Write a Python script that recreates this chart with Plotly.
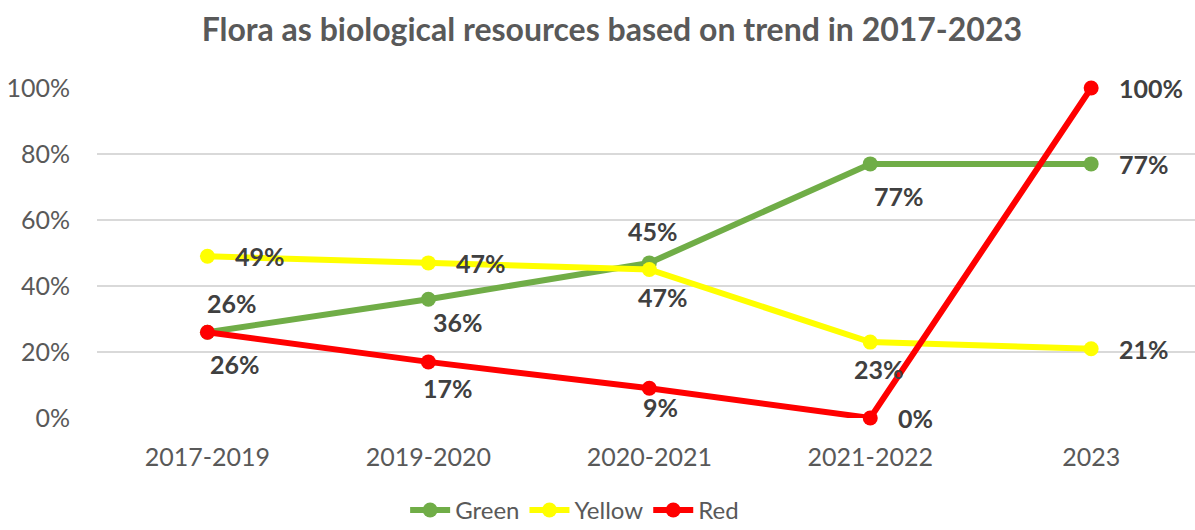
import plotly.graph_objects as go

categories = ["2017-2019", "2019-2020", "2020-2021", "2021-2022", "2023"]
green = [26, 36, 47, 77, 77]
yellow = [49, 47, 45, 23, 21]
red = [26, 17, 9, 0, 100]
green_labels = ["26%", "36%", "45%", "77%", "77%"]
yellow_labels = ["49%", "47%", "47%", "23%", "21%"]
red_labels = ["26%", "17%", "9%", "0%", "100%"]
y_ticks = [0, 20, 40, 60, 80, 100]
y_tick_text = ["0%", "20%", "40%", "60%", "80%", "100%"]

FONT = "Lato"
GRAY = "#595959"
LABEL = "#404040"

series = [
    ("Green", green, green_labels, "#70ad47",
     [(25, -29, "c"), (30, 23, "c"), (4, -32, "c"), (29, 32, "c"), (26, 0, "r")]),
    ("Yellow", yellow, yellow_labels, "#ffff00",
     [(26, 0, "r"), (26, 0, "r"), (14, 27, "c"), (9, 27, "c"), (26, 0, "r")]),
    ("Red", red, red_labels, "#ff0000",
     [(28, 32, "c"), (20, 26, "c"), (11, 19, "c"), (26, 0, "r"), (26, 0, "r")]),
]

fig = go.Figure()
annotations = []
for name, vals, labels, color, offs in series:
    fig.add_trace(go.Scatter(
        x=categories, y=vals, name=name, mode="lines+markers",
        line=dict(color=color, width=6),
        marker=dict(color=color, size=15),
        cliponaxis=False,
    ))
    for i, (v, lab, (dx, dy, mode)) in enumerate(zip(vals, labels, offs)):
        annotations.append(dict(
            x=i, y=v, xref="x", yref="y", text=f"<b>{lab}</b>",
            showarrow=False, xanchor="left" if mode == "r" else "center",
            yanchor="middle", xshift=dx, yshift=-dy,
            font=dict(family=FONT, size=25, color=LABEL),
        ))

fig.update_layout(
    width=1195, height=530,
    margin=dict(l=97, r=0, t=88, b=112, autoexpand=False),
    paper_bgcolor="white", plot_bgcolor="white",
    font=dict(family=FONT, color=GRAY),
    title=dict(text="<b>Flora as biological resources based on trend in 2017-2023</b>",
               x=0.512, xanchor="center", y=1 - 30 / 530, yanchor="middle",
               font=dict(family=FONT, size=32, color=GRAY)),
    xaxis=dict(type="category", range=[-0.5, 4.47], showgrid=False,
               showline=False, zeroline=False, ticks="", ticklabelstandoff=22,
               automargin=False,
               tickfont=dict(family=FONT, size=25, color=GRAY)),
    yaxis=dict(range=[0, 100], tickvals=y_ticks, ticktext=y_tick_text,
               showgrid=True, gridcolor="#d9d9d9", gridwidth=2,
               zeroline=False, showline=False, ticks="", ticklabelstandoff=26,
               automargin=False,
               tickfont=dict(family=FONT, size=25, color=GRAY)),
    showlegend=True,
    legend=dict(orientation="h", x=0.435, xanchor="center", y=-0.28,
                yanchor="middle", font=dict(family=FONT, size=24, color=GRAY),
                itemwidth=40, tracegroupgap=0),
    annotations=annotations,
)

fig.write_html("out.html")
